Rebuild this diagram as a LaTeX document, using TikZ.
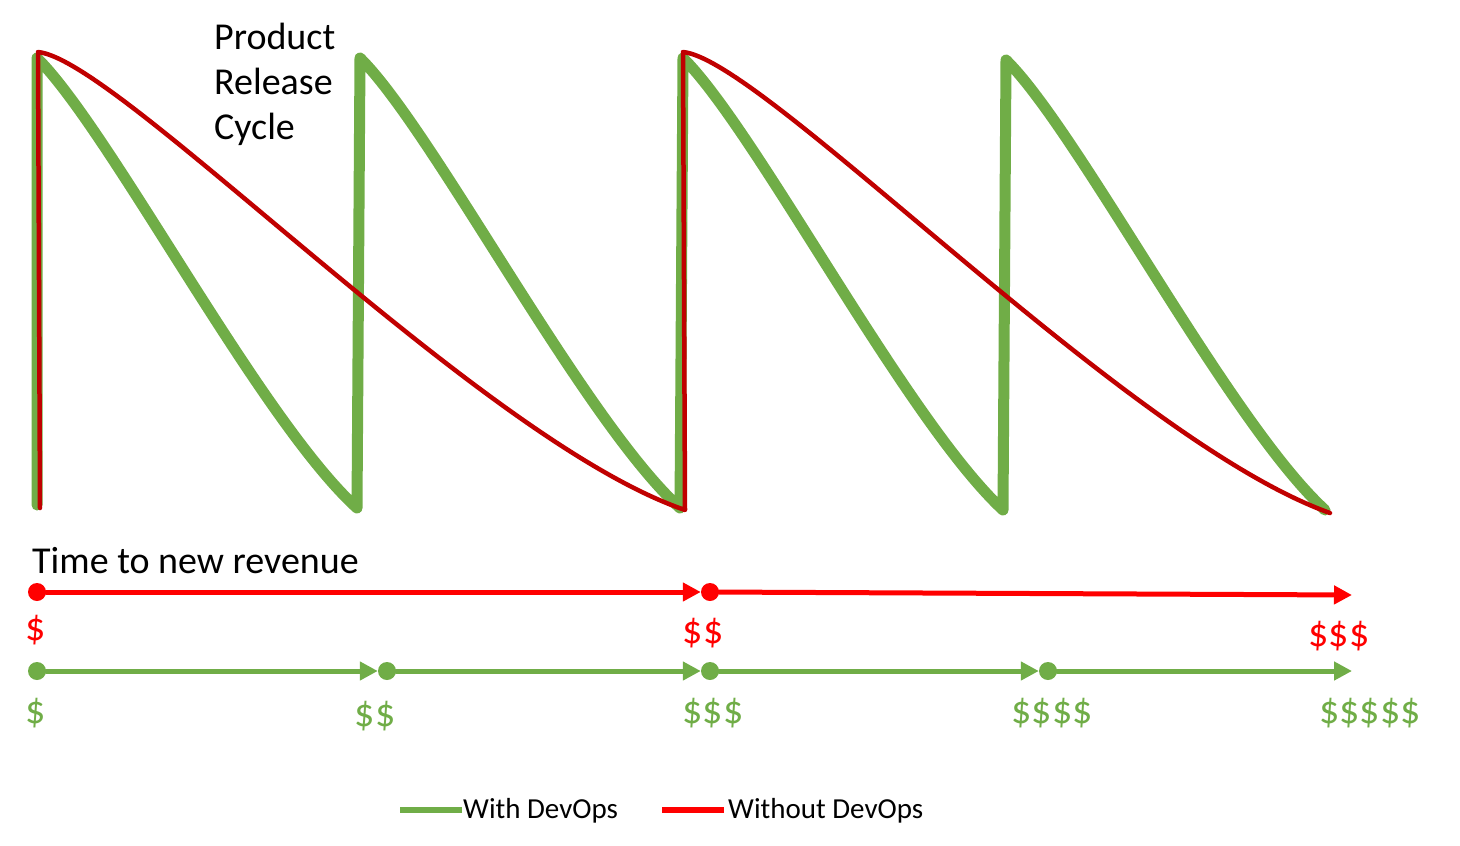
\documentclass[tikz,border=0pt]{standalone}
\usepackage{fontspec}
\setmainfont{Carlito}
\usetikzlibrary{arrows.meta}

\definecolor{devgreen}{RGB}{112,173,71}
\definecolor{cyclered}{RGB}{192,0,0}
\definecolor{timered}{RGB}{255,0,0}

\begin{document}
\begin{tikzpicture}[x=1pt,y=-1pt,line cap=round,line join=round,
    dot/.style={circle,fill,inner sep=0pt,minimum size=18pt},
    money/.style={anchor=base,inner sep=0pt,font=\fontsize{40}{44}\selectfont},
    flow/.style={line width=5pt,-{Triangle[length=18pt,width=18pt]}},
    legendtext/.style={anchor=west,inner sep=0pt,font=\fontsize{29}{32}\selectfont}]
    \useasboundingbox (0,0) rectangle (1460,846);

    % Ciclos con DevOps
    \draw[devgreen,line width=11pt]
        (37,505) -- (37,58)
        .. controls (110,130) and (260,420) .. (357,508) -- (360,58)
        .. controls (433,130) and (583,420) .. (680,508) -- (683,58)
        .. controls (756,130) and (906,420) .. (1003,510) -- (1006,60)
        .. controls (1079,132) and (1229,422) .. (1325,510);

    % Ciclos sin DevOps
    \draw[cyclered,line width=4.5pt]
        (40,508) -- (38,52)
        .. controls (120,60) and (480,440) .. (685,510) -- (683,52)
        .. controls (765,60) and (1125,440) .. (1330,513);

    \node[anchor=north west,align=left,inner sep=0pt,
        font=\fontsize{38}{45}\selectfont] (cycle) at (214,23)
        {Product\\Release\\Cycle};

    % Tiempo hasta nuevos ingresos
    \node[anchor=base west,inner sep=0pt,font=\fontsize{38}{40}\selectfont]
        (revenue) at (32,573) {Time to new revenue};

    \node[dot,timered] (r1) at (37,592) {};
    \node[dot,timered] (r2) at (710,592) {};
    \coordinate (r3) at (1352,595);
    \draw[flow,timered] (r1) -- (r2);
    \draw[flow,timered] (r2) -- (r3);
    \node[money,timered] (r1m) at (36,640) {\$};
    \node[money,timered] (r2m) at (703,643) {\$\$};
    \node[money,timered] (r3m) at (1339,646) {\$\$\$};

    \node[dot,devgreen] (g1) at (37,671) {};
    \node[dot,devgreen] (g2) at (387,671) {};
    \node[dot,devgreen] (g3) at (710,671) {};
    \node[dot,devgreen] (g4) at (1048,671) {};
    \coordinate (g5) at (1352,671);
    \draw[flow,devgreen] (g1) -- (g2);
    \draw[flow,devgreen] (g2) -- (g3);
    \draw[flow,devgreen] (g3) -- (g4);
    \draw[flow,devgreen] (g4) -- (g5);
    \node[money,devgreen] (g1m) at (36,723) {\$};
    \node[money,devgreen] (g2m) at (375,726) {\$\$};
    \node[money,devgreen] (g3m) at (713,723) {\$\$\$};
    \node[money,devgreen] (g4m) at (1052,723) {\$\$\$\$};
    \node[money,devgreen] (g5m) at (1370,723) {\$\$\$\$\$};

    % Leyenda
    \draw[devgreen,line width=6pt,line cap=butt] (400,810) -- (462,810);
    \node[legendtext] (with) at (463,811) {With DevOps};
    \draw[timered,line width=6pt,line cap=butt] (662,810) -- (724,810);
    \node[legendtext] (without) at (728,811) {Without DevOps};
\end{tikzpicture}
\end{document}
